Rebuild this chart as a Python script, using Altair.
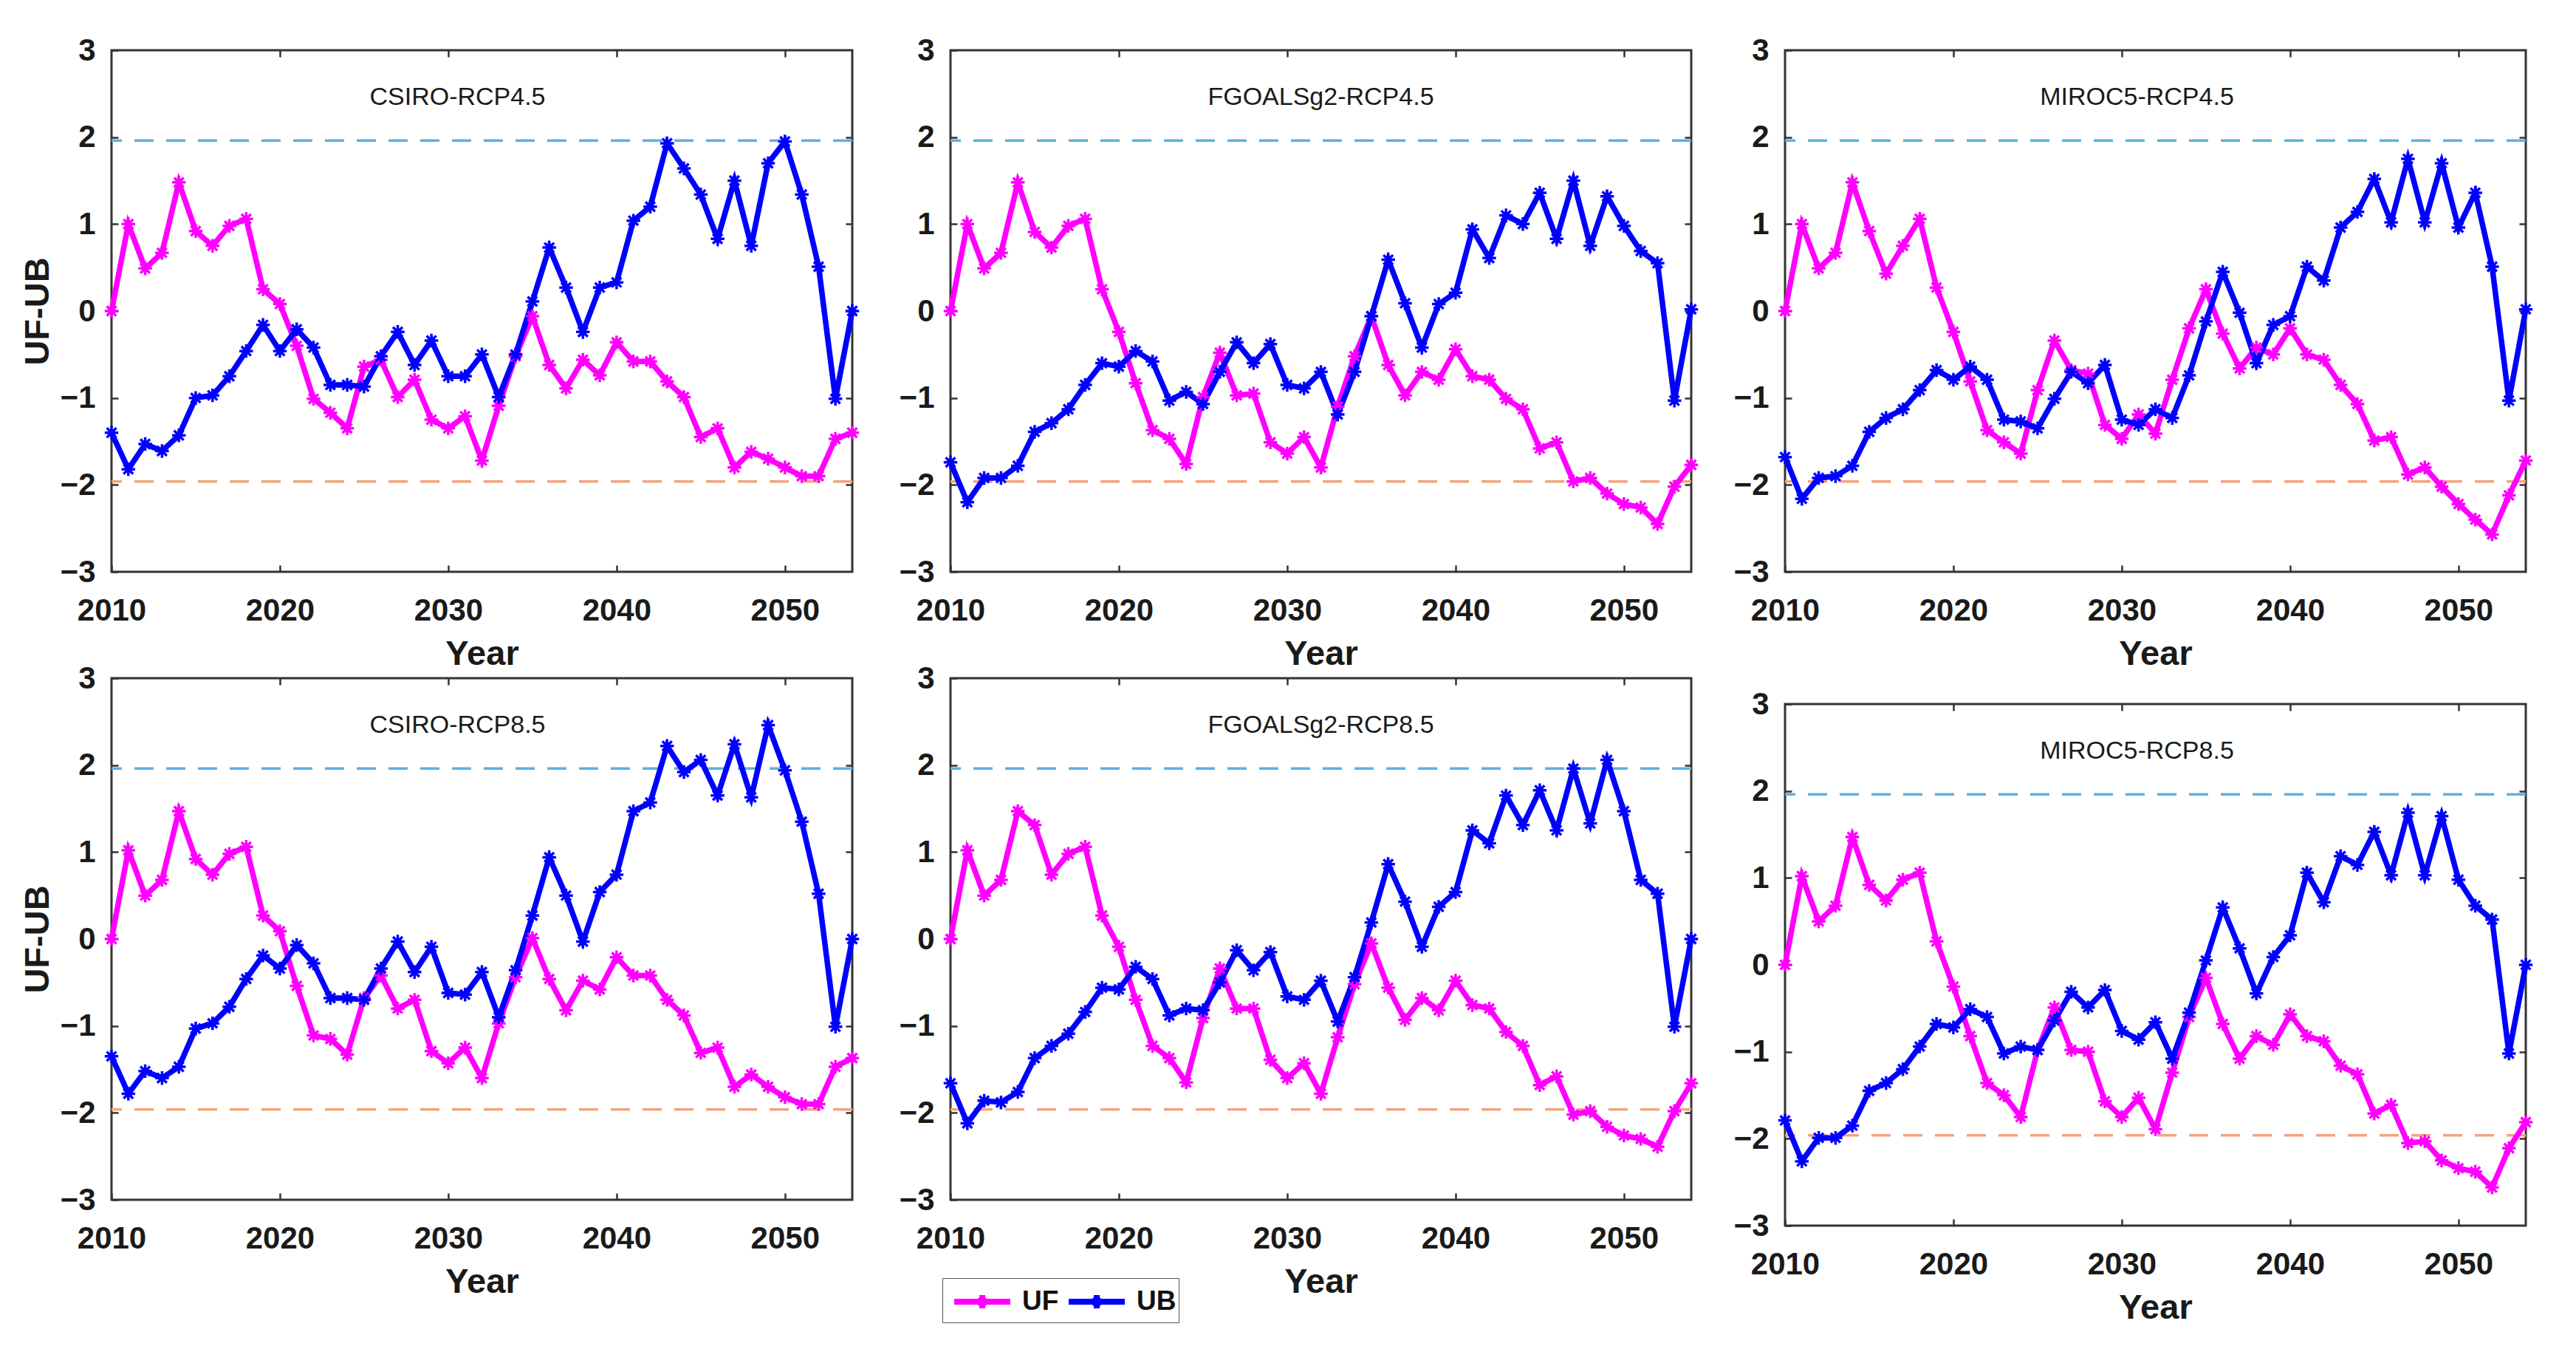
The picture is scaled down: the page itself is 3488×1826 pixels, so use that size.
import altair as alt
import pandas as pd

years = list(range(2010, 2055))

panel_names = ["CSIRO-RCP4.5", "FGOALSg2-RCP4.5", "MIROC5-RCP4.5",
               "CSIRO-RCP8.5", "FGOALSg2-RCP8.5", "MIROC5-RCP8.5"]

csiro45_uf = [0, 1.0, 0.49, 0.67, 1.48, 0.92, 0.75, 0.98, 1.06, 0.25,
              0.08, -0.40, -1.01, -1.17, -1.35, -0.64, -0.56, -0.99, -0.79, -1.25,
              -1.35, -1.21, -1.72, -1.09, -0.52, -0.06, -0.62, -0.89, -0.56, -0.74,
              -0.36, -0.58, -0.58, -0.81, -0.99, -1.45, -1.35, -1.80, -1.62, -1.70,
              -1.80, -1.90, -1.90, -1.47, -1.40]
csiro45_ub = [-1.40, -1.82, -1.53, -1.61, -1.43, -1.00, -0.97, -0.75, -0.46, -0.16,
              -0.46, -0.21, -0.42, -0.85, -0.85, -0.87, -0.52, -0.24, -0.62, -0.34,
              -0.75, -0.75, -0.50, -0.99, -0.50, 0.11, 0.73, 0.27, -0.24, 0.27,
              0.33, 1.04, 1.20, 1.93, 1.64, 1.34, 0.83, 1.50, 0.75, 1.70,
              1.95, 1.34, 0.51, -1.01, 0.0]

fg45_uf = [0, 1.0, 0.49, 0.67, 1.48, 0.91, 0.73, 0.98, 1.06, 0.25,
           -0.24, -0.83, -1.37, -1.47, -1.76, -0.99, -0.48, -0.97, -0.95, -1.51,
           -1.64, -1.45, -1.80, -1.10, -0.52, -0.06, -0.62, -0.97, -0.70, -0.79,
           -0.44, -0.75, -0.79, -1.01, -1.13, -1.58, -1.51, -1.96, -1.92, -2.10,
           -2.22, -2.26, -2.45, -2.02, -1.77]
fg45_ub = [-1.74, -2.20, -1.92, -1.92, -1.78, -1.39, -1.29, -1.13, -0.85, -0.60,
           -0.64, -0.46, -0.58, -1.03, -0.93, -1.07, -0.70, -0.36, -0.60, -0.38,
           -0.85, -0.89, -0.70, -1.19, -0.70, -0.06, 0.59, 0.09, -0.42, 0.08,
           0.21, 0.94, 0.61, 1.10, 1.00, 1.36, 0.83, 1.50, 0.75, 1.32,
           0.98, 0.69, 0.55, -1.03, 0.02]

mi45_uf = [0, 1.0, 0.49, 0.67, 1.48, 0.92, 0.43, 0.75, 1.06, 0.27,
           -0.24, -0.81, -1.37, -1.51, -1.64, -0.91, -0.34, -0.68, -0.72, -1.31,
           -1.47, -1.19, -1.41, -0.79, -0.20, 0.25, -0.26, -0.66, -0.42, -0.50,
           -0.20, -0.50, -0.56, -0.85, -1.07, -1.49, -1.45, -1.88, -1.80, -2.02,
           -2.22, -2.40, -2.57, -2.12, -1.72]
mi45_ub = [-1.68, -2.16, -1.92, -1.90, -1.78, -1.39, -1.23, -1.13, -0.91, -0.68,
           -0.79, -0.64, -0.79, -1.25, -1.27, -1.35, -1.01, -0.70, -0.83, -0.62,
           -1.25, -1.31, -1.13, -1.23, -0.74, -0.12, 0.45, -0.02, -0.60, -0.16,
           -0.06, 0.51, 0.35, 0.96, 1.14, 1.52, 1.02, 1.75, 1.02, 1.70,
           0.96, 1.36, 0.51, -1.03, 0.02]

cs85_uf = [0, 1.02, 0.50, 0.68, 1.47, 0.92, 0.74, 0.98, 1.06, 0.27,
           0.09, -0.54, -1.11, -1.15, -1.33, -0.68, -0.42, -0.80, -0.70, -1.29,
           -1.43, -1.25, -1.60, -0.97, -0.44, 0.01, -0.46, -0.82, -0.48, -0.58,
           -0.21, -0.42, -0.42, -0.70, -0.88, -1.31, -1.25, -1.70, -1.56, -1.70,
           -1.82, -1.90, -1.90, -1.47, -1.37]
cs85_ub = [-1.35, -1.78, -1.52, -1.60, -1.47, -1.03, -0.97, -0.78, -0.46, -0.19,
           -0.34, -0.07, -0.28, -0.68, -0.68, -0.70, -0.34, -0.03, -0.38, -0.09,
           -0.62, -0.64, -0.38, -0.90, -0.36, 0.27, 0.94, 0.50, -0.03, 0.54,
           0.74, 1.47, 1.57, 2.22, 1.92, 2.06, 1.65, 2.24, 1.63, 2.46,
           1.94, 1.35, 0.52, -1.01, 0.0]

fg85_uf = [0, 1.02, 0.50, 0.68, 1.47, 1.31, 0.74, 0.98, 1.06, 0.27,
           -0.09, -0.70, -1.23, -1.37, -1.65, -0.91, -0.34, -0.80, -0.80, -1.39,
           -1.60, -1.43, -1.78, -1.13, -0.52, -0.05, -0.56, -0.93, -0.68, -0.82,
           -0.48, -0.76, -0.80, -1.07, -1.23, -1.68, -1.58, -2.02, -1.98, -2.16,
           -2.26, -2.30, -2.39, -1.98, -1.66]
fg85_ub = [-1.66, -2.12, -1.86, -1.88, -1.76, -1.37, -1.23, -1.09, -0.84, -0.56,
           -0.58, -0.32, -0.46, -0.88, -0.80, -0.82, -0.50, -0.13, -0.36, -0.15,
           -0.66, -0.70, -0.48, -0.95, -0.44, 0.19, 0.86, 0.43, -0.09, 0.37,
           0.54, 1.25, 1.10, 1.65, 1.31, 1.71, 1.25, 1.96, 1.33, 2.06,
           1.47, 0.68, 0.52, -1.01, 0.0]

mi85_uf = [0, 1.02, 0.50, 0.68, 1.47, 0.92, 0.74, 0.98, 1.06, 0.27,
           -0.25, -0.82, -1.36, -1.50, -1.75, -0.98, -0.49, -0.98, -1.00, -1.57,
           -1.75, -1.53, -1.89, -1.24, -0.60, -0.15, -0.68, -1.08, -0.82, -0.92,
           -0.57, -0.82, -0.88, -1.16, -1.26, -1.71, -1.61, -2.05, -2.03, -2.25,
           -2.34, -2.38, -2.56, -2.11, -1.81]
mi85_ub = [-1.79, -2.26, -1.99, -1.99, -1.85, -1.45, -1.36, -1.20, -0.94, -0.68,
           -0.72, -0.51, -0.60, -1.02, -0.94, -0.98, -0.64, -0.31, -0.49, -0.29,
           -0.76, -0.86, -0.66, -1.08, -0.55, 0.05, 0.66, 0.19, -0.33, 0.09,
           0.34, 1.06, 0.72, 1.25, 1.15, 1.53, 1.03, 1.75, 1.03, 1.71,
           0.98, 0.68, 0.52, -1.02, 0.0]

series_names = ["UF", "UB"]
series_colors = ["#FF00FF", "#0000FF"]
threshold_values = [1.96, -1.96]
threshold_colors = ["#5FB0E2", "#F2A47C"]
x_tick_values = [2010, 2020, 2030, 2040, 2050]
x_minor_ticks = [2020, 2030, 2040, 2050]
y_tick_values = [-3, -2, -1, 0, 1, 2, 3]
y_minor_ticks = [-2, -1, 0, 1, 2]

W, H = 1003, 706
TK = 9
FONT = "Liberation Sans"
ASTER = "M-1,0L1,0M0,-1L0,1M-0.7,-0.7L0.7,0.7M-0.7,0.7L0.7,-0.7"
LEG_SYM = ("M-1.52,0L1.52,0M0,-0.36L0,0.36M-0.22,0L0.22,0"
           "M-0.2,-0.2L0.2,0.2M-0.2,0.2L0.2,-0.2")

xscale = alt.Scale(domain=[2010, 2054], nice=False, zero=False)
yscale = alt.Scale(domain=[-3, 3], nice=False, zero=False)
cscale = alt.Scale(domain=series_names, range=series_colors)

legend = alt.Legend(title=None, orient="none", legendX=1125, legendY=1662,
                    direction="horizontal", symbolType=LEG_SYM, symbolSize=2500,
                    symbolStrokeWidth=8, symbolOffset=22, labelFontSize=37,
                    labelFont=FONT, labelFontWeight="bold", labelColor="#111",
                    labelOffset=25, strokeColor="#555", fillColor="#fff",
                    padding=3, columnPadding=-5)


def panel(name, uf, ub, show_ytitle, dx):
    df = pd.DataFrame({
        "Year": years * 2,
        "value": uf + ub,
        "series": ["UF"] * len(uf) + ["UB"] * len(ub),
    })
    thr = pd.DataFrame({"value": threshold_values, "c": threshold_colors})

    rules = alt.Chart(thr).mark_rule(strokeDash=[26, 17], strokeWidth=3.5).encode(
        y=alt.Y("value:Q", scale=yscale, axis=None),
        color=alt.Color("c:N", scale=None),
    )

    x_bottom = alt.Axis(orient="bottom", values=x_tick_values, format="d", title="Year",
                        offset=-TK, tickSize=TK, labelPadding=32, titlePadding=15,
                        labelFlush=False)
    y_left = alt.Axis(orient="left", values=y_tick_values, format="d",
                      offset=-TK, tickSize=TK, labelPadding=22, titlePadding=6,
                      title="UF-UB" if show_ytitle else None)

    lines = alt.Chart(df).mark_line(strokeWidth=7.5).encode(
        x=alt.X("Year:Q", scale=xscale, axis=x_bottom),
        y=alt.Y("value:Q", scale=yscale, axis=y_left),
        color=alt.Color("series:N", scale=cscale, legend=legend),
        detail="series:N",
    )

    x_top = alt.Axis(orient="top", values=x_minor_ticks, labels=False, title=None,
                     offset=-TK, tickSize=TK)
    y_right = alt.Axis(orient="right", values=y_minor_ticks, labels=False, title=None,
                       offset=-TK, tickSize=TK)
    points = alt.Chart(df).mark_point(shape=ASTER, size=340, strokeWidth=3.5,
                                      filled=False, opacity=1).encode(
        x=alt.X("Year:Q", scale=xscale, axis=x_top),
        y=alt.Y("value:Q", scale=yscale, axis=y_right),
        color=alt.Color("series:N", scale=cscale, legend=legend),
    )

    return alt.layer(rules, lines, points).properties(
        width=W, height=H,
        title=alt.TitleParams(text=name, fontSize=34, font=FONT, fontWeight="normal",
                              color="#1a1a1a", anchor="middle", frame="group",
                              offset=-129, baseline="alphabetic", dx=dx),
    )


p1 = panel(panel_names[0], csiro45_uf, csiro45_ub, True, -33)
p2 = panel(panel_names[1], fg45_uf, fg45_ub, False, 0)
p3 = panel(panel_names[2], mi45_uf, mi45_ub, False, -25)
p4 = panel(panel_names[3], cs85_uf, cs85_ub, True, -33)
p5 = panel(panel_names[4], fg85_uf, fg85_ub, False, 0)
p6 = panel(panel_names[5], mi85_uf, mi85_ub, False, -25)

col1 = alt.vconcat(p1, p4, spacing=-15)
col2 = alt.vconcat(p2, p5, spacing=-15)
col3 = alt.vconcat(p3, p6, spacing=20)

left_two = alt.hconcat(col1, col2, spacing=43)
chart = alt.hconcat(left_two, col3, spacing=37).properties(
    padding={"left": 17, "top": 37, "right": 5, "bottom": 5},
    background="white",
).configure_view(
    stroke="#333333", strokeWidth=3,
).configure_axis(
    labelFont=FONT, labelFontSize=42, labelFontWeight="bold", labelColor="#1a1a1a",
    titleFont=FONT, titleFontSize=47, titleFontWeight="bold", titleColor="#1a1a1a",
    tickColor="#333333", tickWidth=2.5, domain=False, grid=False,
)

chart.save("out.html", embed_options={"renderer": "svg", "actions": False})
